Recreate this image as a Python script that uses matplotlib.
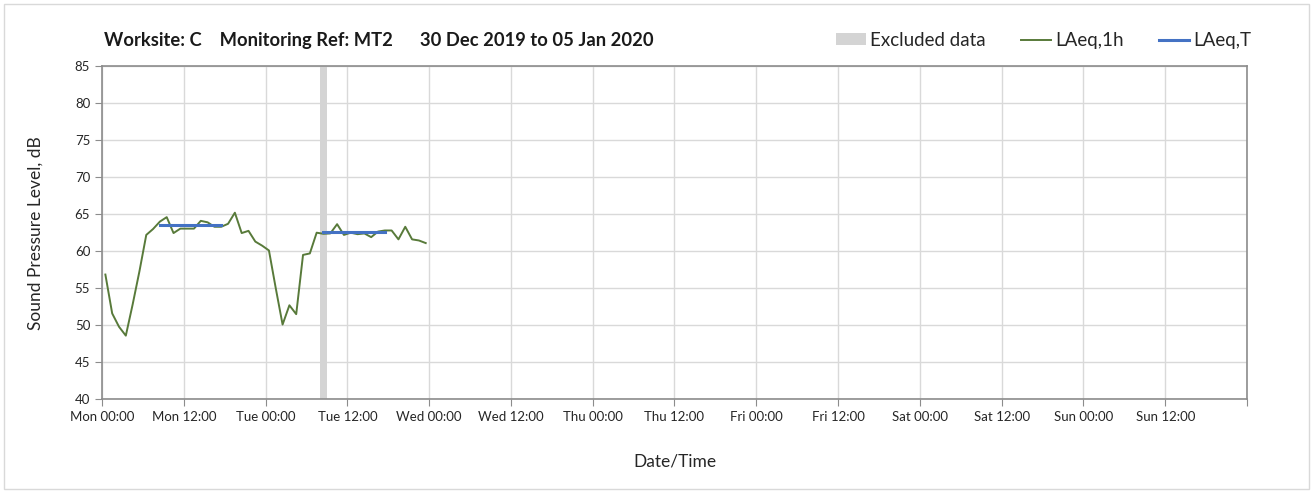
import pandas as pd
import numpy as np
import matplotlib.pyplot as plt
import matplotlib.dates as mdates
from matplotlib.patches import Patch, Rectangle
from matplotlib.lines import Line2D

plt.rcParams["font.family"] = ["Lato", "DejaVu Sans"]

# Hourly LAeq readings (dB), starting Mon 30 Dec 2019 00:30
times = pd.date_range("2019-12-30 00:30", periods=48, freq="h")
laeq_1h = [56.85, 51.6, 49.8, 48.6, 52.8, 57.3, 62.2, 63.0, 64.0, 64.6,
           62.45, 63.05, 63.05, 63.05, 64.1, 63.9, 63.3, 63.3, 63.7, 65.2,
           62.45, 62.75, 61.3, 60.75, 60.1, 55.0, 50.1, 52.7, 51.5, 59.5,
           59.7, 62.5, 62.35, 62.4, 63.65, 62.2, 62.5, 62.3, 62.4, 61.9,
           62.65, 62.8, 62.8, 61.6, 63.3, 61.6, 61.45, 61.1]

# Period LAeq,T (daytime)
period_start = pd.to_datetime(["2019-12-30 08:30", "2019-12-31 08:30"])
period_end = pd.to_datetime(["2019-12-30 17:30", "2019-12-31 17:30"])
laeq_t = [63.5, 62.6]

# Excluded data window
excl_start = pd.Timestamp("2019-12-31 08:00")
excl_end = pd.Timestamp("2019-12-31 09:00")

week_start = pd.Timestamp("2019-12-30 00:00")
week_end = pd.Timestamp("2020-01-06 00:00")

green = "#587a3a"
blue = "#4472c4"
grey = "#d4d4d4"
axis_grey = "#8c8c8c"

fig = plt.figure(figsize=(13.14, 4.93), dpi=100)
ax = fig.add_axes([0.0776, 0.19, 0.8714, 0.676])

ax.axvspan(excl_start, excl_end, color=grey, lw=0, zorder=1)
ax.plot(times, laeq_1h, color=green, lw=1.4, zorder=3)
for s, e, v in zip(period_start, period_end, laeq_t):
    ax.plot([s, e], [v, v], color=blue, lw=2.2, zorder=4)

ax.set_xlim(week_start, week_end)
ax.set_ylim(40, 85)
ax.set_yticks(np.arange(40, 86, 5))
ax.xaxis.set_major_locator(mdates.HourLocator(byhour=[0, 12]))
ax.xaxis.set_major_formatter(mdates.DateFormatter("%a %H:%M"))
fig.canvas.draw()
ticklabels = [t.get_text() for t in ax.get_xticklabels()]
ticklabels[-1] = ""  # no label on the closing tick
ax.set_xticks(ax.get_xticks())
ax.set_xticklabels(ticklabels)

ax.grid(True, color="#d9d9d9", lw=1, zorder=0)
ax.set_axisbelow(True)
for sp in ax.spines.values():
    sp.set_color(axis_grey)
    sp.set_linewidth(1.2)
ax.tick_params(axis="both", direction="out", length=5, color=axis_grey,
               labelsize=9.5, labelcolor="#262626")

ax.set_xlabel("Date/Time", fontsize=12.5, color="#262626", labelpad=22)
ax.set_ylabel("Sound Pressure Level, dB", fontsize=12.5, color="#262626", labelpad=22)

fig.text(0.079, 0.918, "Worksite: C    Monitoring Ref: MT2      30 Dec 2019 to 05 Jan 2020",
         fontsize=13.2, fontweight="bold", color="#1a1a1a", va="center")

handles = [Patch(facecolor=grey, edgecolor="none"),
           Line2D([], [], color=green, lw=1.4),
           Line2D([], [], color=blue, lw=2.2)]
fig.legend(handles, ["Excluded data", "LAeq,1h", "LAeq,T"], ncol=3,
           loc="center right", bbox_to_anchor=(0.965, 0.918), frameon=False,
           fontsize=13.5, handlelength=1.6, handleheight=0.6, handletextpad=0.2,
           columnspacing=1.9, labelcolor="#262626")

fig.add_artist(Rectangle((4 / 1314, 4 / 493), 1305 / 1314, 485 / 493,
                         transform=fig.transFigure, fill=False,
                         edgecolor="#d9d9d9", lw=1))

fig.savefig("out.png", dpi=100)
